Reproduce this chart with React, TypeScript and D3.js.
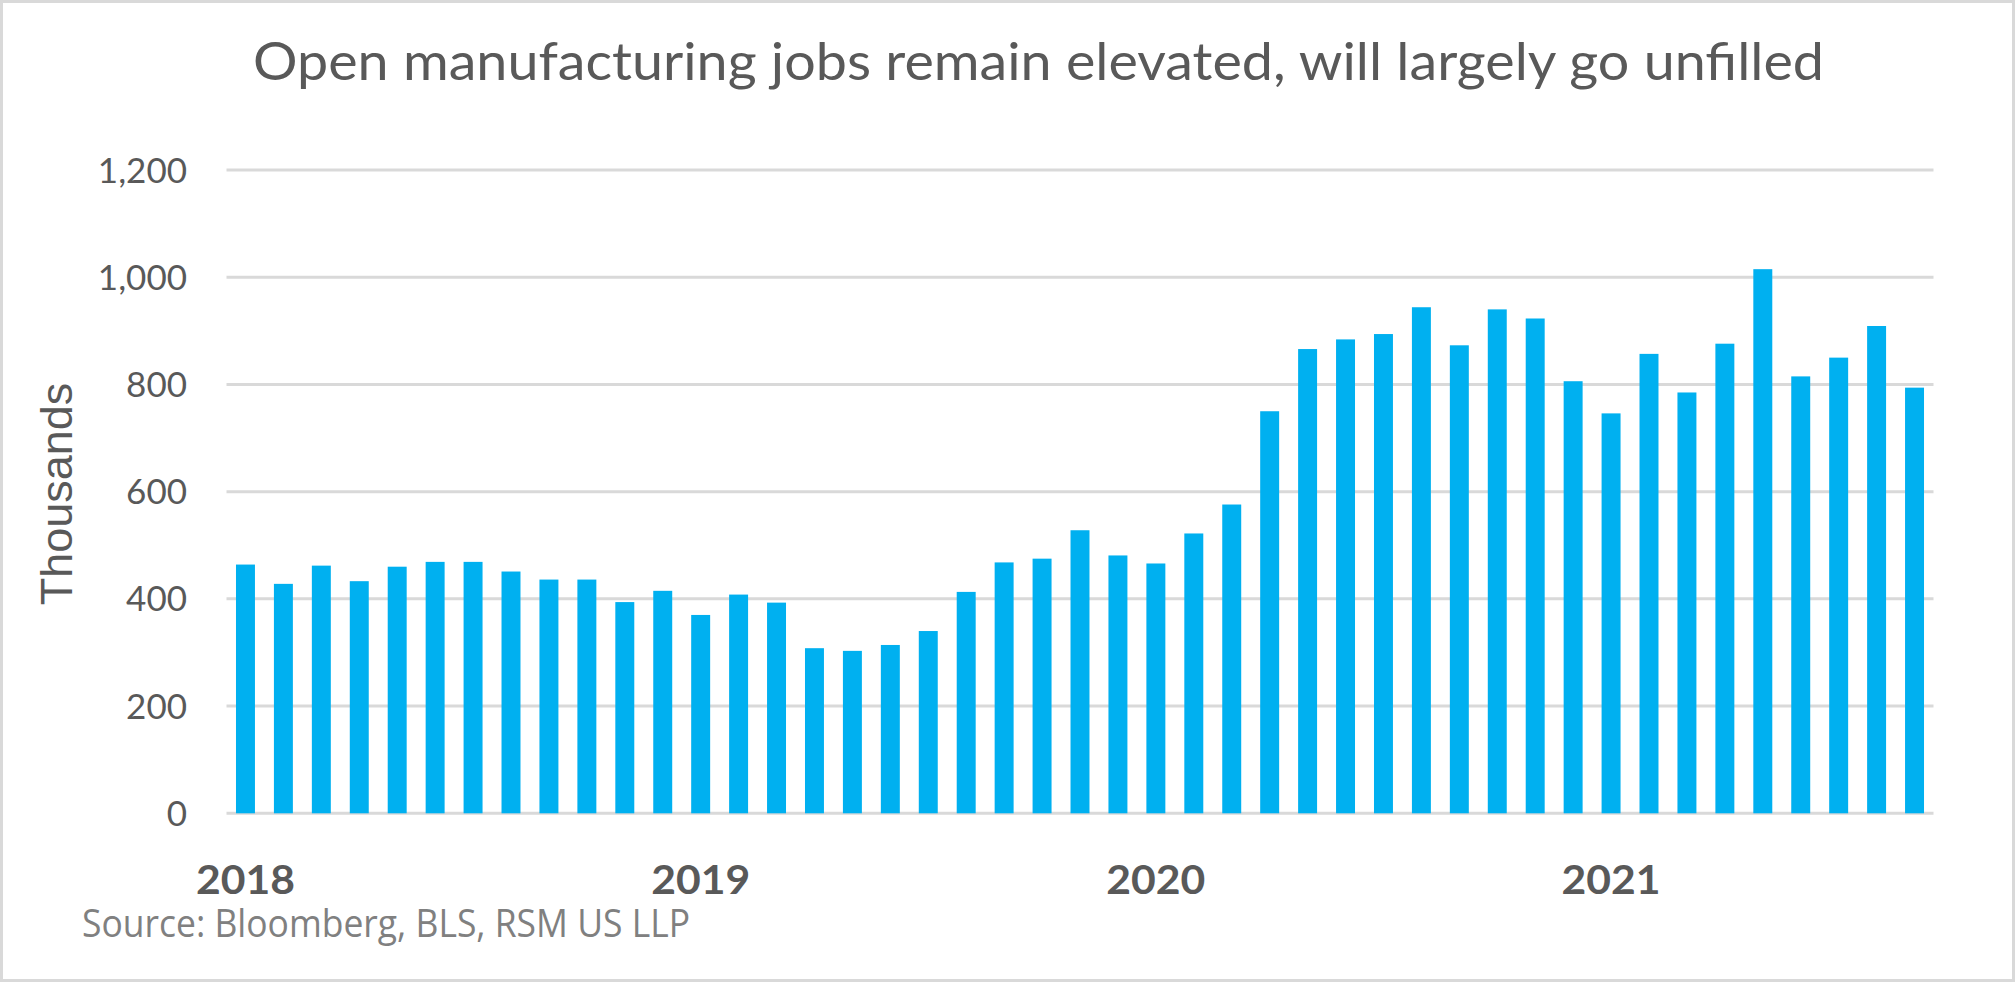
import React, { useEffect, useRef } from 'react';
import * as d3 from 'd3';

// 月份（2018-01 ~ 2021-09）
const months = [
  '2018-01', '2018-02', '2018-03', '2018-04', '2018-05', '2018-06',
  '2018-07', '2018-08', '2018-09', '2018-10', '2018-11', '2018-12',
  '2019-01', '2019-02', '2019-03', '2019-04', '2019-05', '2019-06',
  '2019-07', '2019-08', '2019-09', '2019-10', '2019-11', '2019-12',
  '2020-01', '2020-02', '2020-03', '2020-04', '2020-05', '2020-06',
  '2020-07', '2020-08', '2020-09', '2020-10', '2020-11', '2020-12',
  '2021-01', '2021-02', '2021-03', '2021-04', '2021-05', '2021-06',
  '2021-07', '2021-08', '2021-09',
];

// 制造业职位空缺（千）
const openings = [
  464, 428, 462, 433, 460, 469, 469, 451, 436, 436, 394, 415,
  370, 408, 393, 308, 303, 314, 340, 413, 468, 475, 528, 481,
  466, 522, 576, 750, 866, 884, 894, 944, 873, 940, 923, 806,
  746, 857, 785, 876, 1015, 815, 850, 909, 794,
];

const yTicks = [0, 200, 400, 600, 800, 1000, 1200];
const yearLabels = ['2018', '2019', '2020', '2021'];

const title = 'Open manufacturing jobs remain elevated, will largely go unfilled';
const yTitle = 'Thousands';
const source = 'Source: Bloomberg, BLS, RSM US LLP';

const W = 2015;
const H = 982;

export default function App() {
  const ref = useRef<SVGSVGElement>(null);

  useEffect(() => {
    const svg = d3.select(ref.current);
    svg.selectAll('*').remove();

    const textColor = '#595959';
    const gridColor = '#d9d9d9';
    const calibriLike = "Lato, 'Open Sans', sans-serif";

    // 外框
    svg
      .append('rect')
      .attr('x', 1.5)
      .attr('y', 1.5)
      .attr('width', W - 3)
      .attr('height', H - 3)
      .attr('fill', '#fff')
      .attr('stroke', gridColor)
      .attr('stroke-width', 3);

    // 比例尺
    const x = d3
      .scaleBand<string>()
      .domain(months)
      .range([226.5, 1933.5])
      .paddingInner(0.5)
      .paddingOuter(0.25);
    const y = d3.scaleLinear().domain([0, 1200]).range([813.3, 170]);

    // 标题
    svg
      .append('text')
      .attr('x', 1038.5)
      .attr('y', 80)
      .attr('text-anchor', 'middle')
      .attr('font-family', calibriLike)
      .attr('font-size', 53)
      .attr('fill', textColor)
      .attr('textLength', 1571)
      .attr('lengthAdjust', 'spacingAndGlyphs')
      .text(title);

    // 网格线 + Y轴文字
    const yAxis = svg.append('g').attr('class', 'axisY');
    yAxis
      .selectAll('line')
      .data(yTicks)
      .enter()
      .append('line')
      .attr('x1', 226.5)
      .attr('x2', 1933.5)
      .attr('y1', (d) => y(d))
      .attr('y2', (d) => y(d))
      .attr('stroke', gridColor)
      .attr('stroke-width', 3);
    yAxis
      .selectAll('text')
      .data(yTicks)
      .enter()
      .append('text')
      .attr('x', 187)
      .attr('y', (d) => y(d) + 12.5)
      .attr('text-anchor', 'end')
      .attr('font-family', calibriLike)
      .attr('font-size', 35)
      .attr('fill', textColor)
      .text((d) => d3.format(',')(d));

    // 柱子
    svg
      .append('g')
      .selectAll('rect')
      .data(openings)
      .enter()
      .append('rect')
      .attr('x', (d, i) => x(months[i]) as number)
      .attr('y', (d) => y(d))
      .attr('width', x.bandwidth())
      .attr('height', (d) => y(0) - y(d))
      .attr('fill', '#00b0f0');

    // 年份标签（每年一月）
    svg
      .append('g')
      .selectAll('text')
      .data(yearLabels)
      .enter()
      .append('text')
      .attr('x', (d) => (x(`${d}-01`) as number) + x.bandwidth() / 2)
      .attr('y', 894)
      .attr('text-anchor', 'middle')
      .attr('font-family', calibriLike)
      .attr('font-weight', 'bold')
      .attr('font-size', 40)
      .attr('fill', textColor)
      .attr('textLength', 99)
      .attr('lengthAdjust', 'spacingAndGlyphs')
      .text((d) => d);

    // Y轴标题
    svg
      .append('text')
      .attr('transform', 'translate(72,494) rotate(-90)')
      .attr('text-anchor', 'middle')
      .attr('font-family', "'Liberation Sans', Arial, sans-serif")
      .attr('font-size', 45)
      .attr('fill', textColor)
      .text(yTitle);

    // 数据来源
    svg
      .append('text')
      .attr('x', 82)
      .attr('y', 937)
      .attr('font-family', "'Open Sans', sans-serif")
      .attr('font-size', 39)
      .attr('fill', '#808080')
      .attr('textLength', 608)
      .attr('lengthAdjust', 'spacingAndGlyphs')
      .text(source);
  }, []);

  return (
    <svg
      ref={ref}
      width={W}
      height={H}
      style={{ position: 'absolute', left: 0, top: 0, display: 'block' }}
    />
  );
}
